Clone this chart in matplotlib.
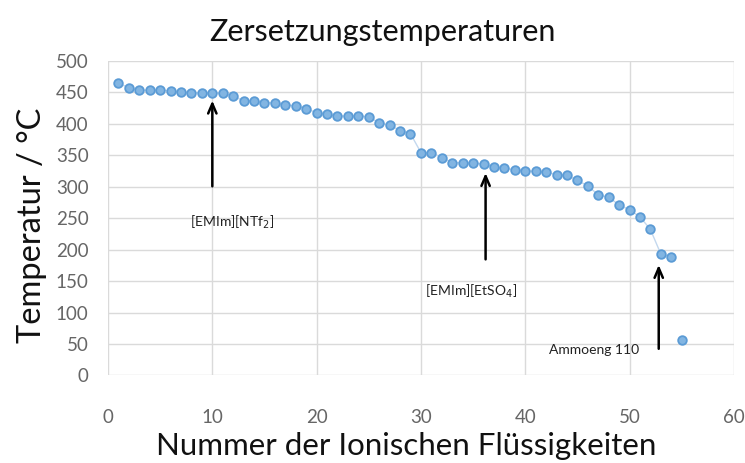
import numpy as np
import matplotlib
matplotlib.use('Agg')
import matplotlib.pyplot as plt

# Daten: Zersetzungstemperaturen der ionischen Flüssigkeiten (°C)
nummer = np.arange(1, 56)
temperatur = [464, 457, 453, 453, 453, 452, 450, 449, 449, 449,
              448, 444, 436, 436, 433, 433, 430, 428, 424, 417,
              415, 412, 412, 412, 411, 401, 398, 389, 384, 354,
              354, 346, 338, 338, 337, 336, 331, 329, 327, 325,
              324, 323, 319, 318, 310, 301, 287, 283, 271, 263,
              252, 232, 193, 188, 56]

# Pfeile: (Label, x, Pfeilspitze y, Pfeilende y, Text x, Text y)
pfeile = [
    ('[EMIm][NTf$_2$]', 10, 441, 296, 11.9, 244),
    ('[EMIm][EtSO$_4$]', 36.2, 326, 180, 34.8, 134),
    ('Ammoeng 110', 52.8, 180, 38, 46.6, 40),
]

plt.rcParams['font.family'] = ['Lato', 'DejaVu Sans']

fig = plt.figure(figsize=(7.45, 4.63), dpi=100)
ax = fig.add_axes([0.145, 0.189, 0.840, 0.680])

# dünne Verbindungslinie (letzter Punkt steht allein)
ax.plot(nummer[:-1], temperatur[:-1], color='#C3D8EE', linewidth=1.0, zorder=2)
ax.plot(nummer, temperatur, linestyle='none', zorder=3,
        marker='o', markersize=6.2, markerfacecolor='#82B5E2',
        markeredgecolor='#5B9BD5', markeredgewidth=1.3)

for text, x, y_head, y_tail, tx, ty in pfeile:
    ax.annotate('', xy=(x, y_head), xytext=(x, y_tail),
                arrowprops=dict(arrowstyle='->,head_length=0.7,head_width=0.3',
                                color='black', lw=1.8), zorder=4)
    ax.text(tx, ty, text, fontsize=10, ha='center', va='center', color='#222222')

ax.set_xlim(0, 60)
ax.set_ylim(0, 500)
ax.set_xticks(range(0, 61, 10))
ax.set_yticks(range(0, 501, 50))
ax.grid(True, color='#DADADA', linewidth=1.0)
ax.set_axisbelow(True)
for s in ax.spines.values():
    s.set_visible(False)
ax.tick_params(length=0, labelsize=13.5, labelcolor='#666666')
ax.tick_params(axis='y', pad=14)
ax.tick_params(axis='x', pad=24)

fig.text(0.513, 0.93, 'Zersetzungstemperaturen', fontsize=22, ha='center', va='center',
         color='#111111')
ax.set_xlabel('Nummer der Ionischen Flüssigkeiten', fontsize=22.5, color='#111111')
ax.xaxis.set_label_coords(0.476, -0.178)
ax.set_ylabel('Temperatur / °C', fontsize=23.5, color='#111111')
ax.yaxis.set_label_coords(-0.098, 0.478)

fig.savefig('out.png', dpi=100)
